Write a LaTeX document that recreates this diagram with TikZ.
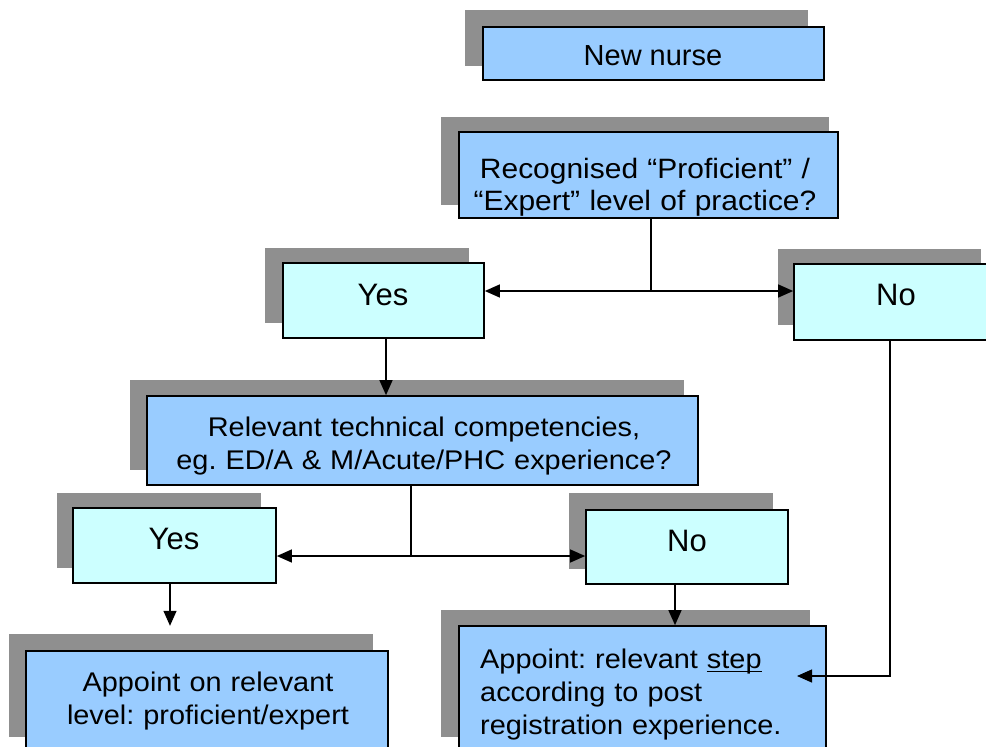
\documentclass[tikz,border=0pt]{standalone}
\usepackage{fontspec}
\setmainfont{Liberation Sans}
\newfontfamily\wf[FakeStretch=1.07]{Liberation Sans}
\usetikzlibrary{arrows.meta}
\definecolor{fblue}{HTML}{99CCFF}
\definecolor{fcyan}{HTML}{CCFFFF}
\definecolor{shgrey}{HTML}{8F8F8F}
\frenchspacing
\newcommand\myul[1]{\setbox0\hbox{#1}\rlap{\rule[-4pt]{\wd0}{1.5pt}}\box0}
\tikzset{
  shadowbox/.style={fill=shgrey, draw=none, inner sep=0pt},
  frontbox/.style={draw=black, line width=1.7pt, fill=fblue, inner sep=0pt},
  ansbox/.style={draw=black, line width=1.7pt, fill=fcyan, inner sep=0pt},
  conn/.style={line width=1.3pt},
  arr/.style={conn, -{Triangle[length=15pt,width=13pt]}},
  multitxt/.style={inner sep=0pt, anchor=base, font=\wf\fontsize{27}{33}\selectfont},
  onetxt/.style={inner sep=0pt, anchor=base, font=\fontsize{31}{37}\selectfont}
}
\begin{document}
\begin{tikzpicture}[x=1pt,y=-1pt]
\useasboundingbox (0,0) rectangle (986,747);
\fill[white] (0,0) rectangle (986,747);
\clip (0,0) rectangle (986,747);
% shadows
\node[shadowbox, minimum width=343pt, minimum height=56pt] (nns) at (636.5,38) {};
\node[shadowbox, minimum width=388pt, minimum height=88pt] (recs) at (635,161) {};
\node[shadowbox, minimum width=204pt, minimum height=75pt] (yes1s) at (367,285.5) {};
\node[shadowbox, minimum width=203pt, minimum height=76pt] (no1s) at (879.5,287) {};
\node[shadowbox, minimum width=554pt, minimum height=90pt] (rels) at (407,425) {};
\node[shadowbox, minimum width=204pt, minimum height=75pt] (yes2s) at (159,530.5) {};
\node[shadowbox, minimum width=204pt, minimum height=76pt] (no2s) at (671,531) {};
\node[shadowbox, minimum width=364pt, minimum height=103pt] (app1s) at (191,685.5) {};
\node[shadowbox, minimum width=369pt, minimum height=127pt] (app2s) at (625.5,673.5) {};
% front boxes
\node[frontbox, minimum width=341pt, minimum height=53pt] (nn) at (653.5,53.5) {};
\node[frontbox, minimum width=379pt, minimum height=86pt] (rec) at (648.5,175) {};
\node[ansbox, minimum width=201pt, minimum height=75pt] (yes1) at (383.5,300.5) {};
\node[ansbox, minimum width=203pt, minimum height=76pt] (no1) at (895.5,302) {};
\node[frontbox, minimum width=551pt, minimum height=89pt] (rel) at (422.5,440.5) {};
\node[ansbox, minimum width=203pt, minimum height=75pt] (yes2) at (174.5,545.5) {};
\node[ansbox, minimum width=202pt, minimum height=74pt] (no2) at (687,547) {};
\node[frontbox, minimum width=362pt, minimum height=129pt] (app1) at (207,715.5) {};
\node[frontbox, minimum width=367pt, minimum height=154pt] (app2) at (642.5,703) {};
% connectors
\coordinate (j1) at (651,291);
\draw[conn] (rec.south -| j1) -- (j1);
\draw[arr] (j1) -- (j1 -| yes1.east);
\draw[arr] (j1) -- (j1 -| no1.west);
\coordinate (xa) at (386,0);
\draw[arr] (yes1.south -| xa) -- (rel.north -| xa);
\coordinate (j2) at (411,556);
\draw[conn] (rel.south -| j2) -- (j2);
\draw[arr] (j2) -- (j2 -| yes2.east);
\draw[arr] (j2) -- (j2 -| no2.west);
\coordinate (xb) at (170,0);
\draw[arr, shorten >=8pt] (yes2.south -| xb) -- (app1s.north -| xb);
\coordinate (xc) at (675,0);
\draw[arr] (no2.south -| xc) -- (app2.north -| xc);
\coordinate (k1) at (890,676);
\coordinate (k2) at (797,676);
\draw[arr] (no1.south -| k1) -- (k1) -- (k2);
% texts
\node[inner sep=0pt, anchor=base, font=\fontsize{29}{35}\selectfont] (nnt) at (653,65) {New nurse};
\node[multitxt, text width=360pt, align=center, font=\wf\fontsize{28}{32}\selectfont] (rect) at (645,178) {Recognised “Proficient” /\\“Expert” level of practice?};
\node[onetxt] (yes1t) at (383,305) {Yes};
\node[onetxt] (no1t) at (896,305) {No};
\node[multitxt, text width=520pt, align=center] (relt) at (424,436) {Relevant technical competencies,\\eg. ED/A \& M/Acute/PHC experience?};
\node[onetxt] (yes2t) at (174,549) {Yes};
\node[onetxt] (no2t) at (687,551) {No};
\node[multitxt, text width=340pt, align=center] (app1t) at (208,691) {Appoint on relevant\\level: proficient/expert};
\node[multitxt, text width=340pt, align=left, anchor=base west] (app2t) at (480,668) {Appoint: relevant \myul{step}\\according to post\\registration experience.};
\end{tikzpicture}
\end{document}
